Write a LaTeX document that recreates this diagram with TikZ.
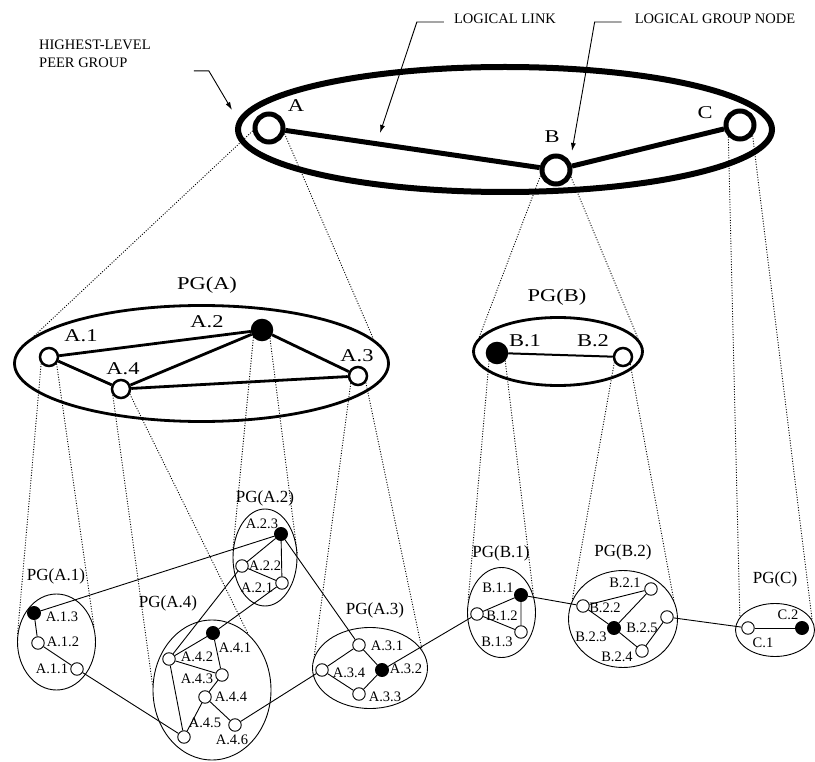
\documentclass[tikz,border=0pt]{standalone}
\usepackage{fontspec}
\setmainfont{Liberation Serif}
\newfontfamily\widefont[FakeStretch=1.25]{Liberation Serif}
\usepackage{tikz}
\usetikzlibrary{shapes.geometric,arrows.meta}
\newcommand{\notesize}{\fontsize{14.5pt}{17.5pt}\selectfont}
\newcommand{\bigsize}{\widefont\fontsize{18pt}{21pt}\selectfont}
\newcommand{\pgsize}{\fontsize{17pt}{20pt}\selectfont}

\begin{document}
\begin{tikzpicture}[x=1pt, y=-1pt,
  grp/.style={ellipse, draw, inner sep=0pt},
  topgrp/.style={grp, line width=6pt},
  midgrp/.style={grp, line width=2.8pt},
  subgrp/.style={grp, line width=0.9pt},
  topnd/.style={circle, draw, fill=white, line width=5pt, minimum size=28pt, inner sep=0pt},
  midnd/.style={circle, draw, fill=white, line width=2.5pt, minimum size=18pt, inner sep=0pt},
  midfull/.style={midnd, fill=black, minimum size=20pt},
  subnd/.style={circle, draw, fill=white, line width=0.9pt, minimum size=12.5pt, inner sep=0pt},
  subfull/.style={subnd, fill=black, minimum size=13pt},
  toplink/.style={line width=5pt},
  midlink/.style={line width=2.8pt},
  sublink/.style={line width=0.9pt},
  proj/.style={line width=0.9pt, dash pattern=on 1pt off 1.6pt},
  leader/.style={line width=0.9pt, -{Latex[length=8pt,width=5pt]}},
  note/.style={inner sep=0pt, font=\notesize},
  bigtxt/.style={inner sep=0pt, font=\bigsize},
  pgtxt/.style={inner sep=0pt, font=\pgsize}
]
\useasboundingbox (0,0) rectangle (815,762);

% highest level
\node[topgrp, minimum width=534pt, minimum height=125pt] (top) at (505,129.5) {};
\node[topnd] (A) at (269,128) {};
\node[topnd] (B) at (556,170) {};
\node[topnd] (C) at (740,125) {};
\node[bigtxt] (labA) at (296,106) {A};
\node[bigtxt] (labB) at (552,137) {B};
\node[bigtxt] (labC) at (705,113) {C};
\draw[toplink] (A) -- (B); \draw[toplink] (B) -- (C);

\node[note, align=left, anchor=west] (hl) at (39,54) {HIGHEST-LEVEL\\PEER GROUP};
\node[note] (ll) at (505,19) {LOGICAL LINK};
\node[note] (lg) at (715,19) {LOGICAL GROUP NODE};
\coordinate (groupTip) at (232,110);
\coordinate (linkTip) at (380,133);
\coordinate (nodeTip) at (572,151);
\draw[leader] ([shift={(43,3)}]hl.south east) -- ++(15,0) -- (groupTip);
\draw[leader] ([shift={(-10,3)}]ll.west) -- ++(-27,0) -- (linkTip);
\draw[leader] ([shift={(-13,3)}]lg.west) -- ++(-27,0) -- (nodeTip);

% PG(A)
\node[midgrp, minimum width=374pt, minimum height=116pt] (pgA) at (201.5,363.5) {};
\node[bigtxt] (pgAlab) at (207,285) {PG(A)};
\node[midnd] (a1) at (49,357) {};
\node[midfull] (a2) at (262,330) {};
\node[midnd] (a3) at (358,376) {};
\node[midnd] (a4) at (121,389) {};
\node[bigtxt] at (81,336) {A.1};
\node[bigtxt] at (207,322) {A.2};
\node[bigtxt] at (357,356) {A.3};
\node[bigtxt] at (123,369) {A.4};
\draw[midlink] (a1) -- (a2); \draw[midlink] (a2) -- (a3);
\draw[midlink] (a3) -- (a4); \draw[midlink] (a4) -- (a1);
\draw[midlink] (a4) -- (a2);

% PG(B)
\node[midgrp, minimum width=169pt, minimum height=68pt] (pgB) at (558,351.5) {};
\node[bigtxt] (pgBlab) at (557,297) {PG(B)};
\node[midfull] (b1) at (497,353) {};
\node[midnd] (b2) at (623,357) {};
\node[bigtxt] at (525,341) {B.1};
\node[bigtxt] at (593,341) {B.2};
\draw[line width=2pt] (b1) -- (b2);

% lowest level groups
\node[subgrp, minimum width=78pt, minimum height=96pt] (pga1) at (56.5,642) {};
\node[pgtxt] at (56,576) {PG(A.1)};
\node[subfull] (a13) at (34,613) {};
\node[subnd] (a12) at (38,643) {};
\node[subnd] (a11) at (77,669) {};
\node[note] at (62,617) {A.1.3};
\node[note] at (63,642) {A.1.2};
\node[note] at (52,669) {A.1.1};

\node[subgrp, minimum width=64pt, minimum height=97pt] (pga2) at (265,557.5) {};
\node[pgtxt] at (265,498) {PG(A.2)};
\node[subfull] (a23) at (281,534) {};
\node[subnd] (a22) at (242,566) {};
\node[subnd] (a21) at (282,583) {};
\node[note] at (262,524) {A.2.3};
\node[note] at (265,566) {A.2.2};
\node[note] at (257,588) {A.2.1};

\node[subgrp, minimum width=118pt, minimum height=140pt] (pga4) at (212,690) {};
\node[pgtxt] at (168,603) {PG(A.4)};
\node[subfull] (a41) at (213,633) {};
\node[subnd] (a42) at (169,659) {};
\node[subnd] (a43) at (222,675) {};
\node[subnd] (a44) at (205,697) {};
\node[subnd] (a45) at (184,737) {};
\node[subnd] (a46) at (235,725) {};
\node[note] at (235,648) {A.4.1};
\node[note] at (197,657) {A.4.2};
\node[note] at (197,679) {A.4.3};
\node[note] at (231,697) {A.4.4};
\node[note] at (205,723) {A.4.5};
\node[note] at (232,740) {A.4.6};

\node[subgrp, minimum width=115pt, minimum height=81pt] (pga3) at (370,668) {};
\node[pgtxt] at (375,610) {PG(A.3)};
\node[subnd] (a31) at (359,645) {};
\node[subfull] (a32) at (382,670) {};
\node[subnd] (a33) at (359,694) {};
\node[subnd] (a34) at (322,670) {};
\node[note] at (387,646) {A.3.1};
\node[note] at (406,669) {A.3.2};
\node[note] at (385,697) {A.3.3};
\node[note] at (349,673) {A.3.4};

\node[subgrp, minimum width=68pt, minimum height=90pt] (pgb1) at (501.5,612.5) {};
\node[pgtxt] at (501,553) {PG(B.1)};
\node[subfull] (b11) at (521,595) {};
\node[subnd] (b12) at (477,614) {};
\node[subnd] (b13) at (521,632) {};
\node[note] at (498,588) {B.1.1};
\node[note] at (502,616) {B.1.2};
\node[note] at (497,642) {B.1.3};

\node[subgrp, minimum width=109pt, minimum height=97pt] (pgb2) at (623,619) {};
\node[pgtxt] at (623,552) {PG(B.2)};
\node[subnd] (b21) at (651,589) {};
\node[subnd] (b22) at (583,606) {};
\node[subfull] (b23) at (614,628) {};
\node[subnd] (b24) at (642,651) {};
\node[subnd] (b25) at (667,617) {};
\node[note] at (625,583) {B.2.1};
\node[note] at (605,608) {B.2.2};
\node[note] at (591,637) {B.2.3};
\node[note] at (617,657) {B.2.4};
\node[note] at (642,628) {B.2.5};

\node[subgrp, minimum width=79pt, minimum height=53pt] (pgc) at (775,630) {};
\node[pgtxt] at (775,579) {PG(C)};
\node[subnd] (c1) at (748,628) {};
\node[subfull] (c2) at (802,628) {};
\node[note] at (763,643) {C.1};
\node[note] at (788,615) {C.2};

% links inside the groups
\draw[sublink] (a13) -- (a12) -- (a11);
\draw[sublink] (a23) -- (a22) -- (a21) -- (a23);
\draw[sublink] (a41) -- (a42) -- (a43) -- (a41);
\draw[sublink] (a42) -- (a45) -- (a44) -- (a43);
\draw[sublink] (a44) -- (a46);
\draw[sublink] (a31) -- (a32) -- (a33) -- (a34) -- (a31);
\draw[sublink] (b11) -- (b12) -- (b13) -- (b11);
\draw[sublink] (b21) -- (b22) -- (b23) -- (b21);
\draw[sublink] (b23) -- (b24) -- (b25);
\draw[sublink] (c1) -- (c2);

% links between the groups
\draw[sublink] (a13) -- (a23);
\draw[sublink] (a11) -- (a45);
\draw[sublink] (a22) -- (a42);
\draw[sublink] (a21) -- (a41);
\draw[sublink] (a23) -- (a31);
\draw[sublink] (a46) -- (a34);
\draw[sublink] (a32) -- (b12);
\draw[sublink] (b11) -- (b22);
\draw[sublink] (b25) -- (c1);

% projections
\draw[proj] (A.190) -- (pgA.171); \draw[proj] (A.340) -- (pgA.8);
\draw[proj] (B.200) -- (pgB.170); \draw[proj] (B.335) -- (pgB.9);
\draw[proj] (C.225) -- (pgc.160); \draw[proj] (C.320) -- (pgc.15);
\draw[proj] (a1.220) -- (pga1.170); \draw[proj] (a1.318) -- (pga1.22);
\draw[proj] (a2.220) -- (pga2.170); \draw[proj] (a2.315) -- (pga2.5);
\draw[proj] (a3.225) -- (pga3.169); \draw[proj] (a3.320) -- (pga3.19);
\draw[proj] (a4.217) -- (pga4.176); \draw[proj] (a4.330) -- (pga4.57);
\draw[proj] (b1.225) -- (pgb1.162); \draw[proj] (b1.317) -- (pgb1.28);
\draw[proj] (b2.212) -- (pgb2.160); \draw[proj] (b2.315) -- (pgb2.20);
\end{tikzpicture}
\end{document}
